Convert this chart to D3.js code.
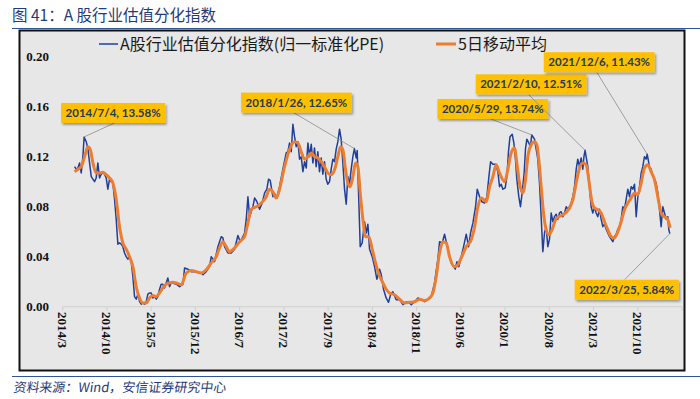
<!DOCTYPE html>
<html>
<head>
<meta charset="utf-8">
<script src="https://cdn.jsdelivr.net/npm/d3@7"></script>
<style>
  body { margin: 0; background: #fff; }
  svg { display: block; }
</style>
</head>
<body>
<svg id="chart" width="700" height="399"></svg>
<script>
// chart data (time as decimal year)
const titleText = "图 41：A 股行业估值分化指数";
const sourceText = "资料来源：Wind，安信证券研究中心";
const seriesNames = ["A股行业估值分化指数(归一标准化PE)", "5日移动平均"];
const yTicks = [0, 0.04, 0.08, 0.12, 0.16, 0.20];
const xTickLabels = ["2014/3", "2014/10", "2015/5", "2015/12", "2016/7", "2017/2", "2017/9",
                     "2018/4", "2018/11", "2019/6", "2020/1", "2020/8", "2021/3", "2021/10"];

// weekly index (blue)
const peIndex = [
  [2014.378,0.112],[2014.400,0.110],[2014.422,0.111],[2014.444,0.115],[2014.466,0.107],[2014.488,0.120],
  [2014.504,0.1358],[2014.532,0.132],[2014.554,0.126],[2014.576,0.115],[2014.598,0.104],[2014.620,0.102],
  [2014.641,0.100],[2014.663,0.103],[2014.685,0.115],[2014.707,0.103],[2014.729,0.106],[2014.751,0.107],
  [2014.773,0.106],[2014.795,0.103],[2014.817,0.094],[2014.839,0.102],[2014.861,0.100],[2014.883,0.099],
  [2014.905,0.086],[2014.927,0.070],[2014.949,0.050],[2014.971,0.051],[2014.993,0.050],[2015.015,0.048],
  [2015.037,0.043],[2015.059,0.040],[2015.081,0.038],[2015.103,0.040],[2015.125,0.036],[2015.147,0.024],
  [2015.169,0.008],[2015.191,0.006],[2015.213,0.010],[2015.235,0.004],[2015.257,0.002],[2015.279,0.003],
  [2015.301,0.002],[2015.323,0.004],[2015.345,0.010],[2015.367,0.011],[2015.389,0.011],[2015.411,0.007],
  [2015.433,0.008],[2015.455,0.006],[2015.477,0.008],[2015.499,0.014],[2015.520,0.018],[2015.542,0.018],
  [2015.564,0.015],[2015.586,0.019],[2015.608,0.023],[2015.630,0.016],[2015.652,0.019],[2015.674,0.019],
  [2015.719,0.018],[2015.763,0.016],[2015.807,0.018],[2015.829,0.031],[2015.873,0.030],[2015.917,0.028],
  [2015.961,0.028],[2016.005,0.0275],[2016.049,0.027],[2016.071,0.0256],[2016.114,0.028],[2016.158,0.032],
  [2016.180,0.040],[2016.224,0.036],[2016.268,0.048],[2016.312,0.056],[2016.334,0.055],[2016.356,0.048],
  [2016.400,0.043],[2016.444,0.043],[2016.488,0.046],[2016.532,0.057],[2016.563,0.052],[2016.598,0.056],
  [2016.620,0.059],[2016.642,0.070],[2016.664,0.088],[2016.686,0.072],[2016.730,0.080],[2016.752,0.087],
  [2016.783,0.084],[2016.818,0.078],[2016.853,0.083],[2016.884,0.091],[2016.914,0.094],[2016.936,0.102],
  [2016.958,0.101],[2016.993,0.088],[2017.024,0.090],[2017.046,0.087],[2017.081,0.096],[2017.125,0.110],
  [2017.169,0.123],[2017.191,0.124],[2017.213,0.131],[2017.235,0.124],[2017.257,0.146],[2017.279,0.136],
  [2017.301,0.128],[2017.323,0.132],[2017.345,0.118],[2017.367,0.120],[2017.389,0.108],[2017.411,0.116],
  [2017.433,0.111],[2017.455,0.131],[2017.477,0.120],[2017.499,0.130],[2017.521,0.115],[2017.542,0.127],
  [2017.564,0.112],[2017.586,0.124],[2017.608,0.108],[2017.630,0.119],[2017.652,0.106],[2017.674,0.116],
  [2017.696,0.102],[2017.718,0.098],[2017.740,0.100],[2017.762,0.110],[2017.784,0.118],[2017.806,0.116],
  [2017.828,0.126],[2017.850,0.132],[2017.872,0.142],[2017.894,0.134],[2017.916,0.115],[2017.938,0.094],
  [2017.960,0.082],[2017.982,0.104],[2018.004,0.098],[2018.026,0.110],[2018.048,0.120],[2018.068,0.1265],
  [2018.092,0.119],[2018.105,0.125],[2018.127,0.083],[2018.145,0.048],[2018.171,0.051],[2018.202,0.068],
  [2018.224,0.059],[2018.246,0.066],[2018.268,0.046],[2018.303,0.040],[2018.334,0.032],[2018.364,0.022],
  [2018.400,0.030],[2018.421,0.026],[2018.452,0.014],[2018.487,0.007],[2018.518,0.0035],[2018.545,0.0096],
  [2018.575,0.012],[2018.619,0.0056],[2018.663,0.0056],[2018.708,0.0016],[2018.752,0.004],[2018.796,0.003],
  [2018.818,0.0016],[2018.862,0.004],[2018.906,0.007],[2018.950,0.0056],[2018.994,0.004],[2019.037,0.0056],
  [2019.081,0.008],[2019.125,0.019],[2019.169,0.038],[2019.191,0.052],[2019.226,0.051],[2019.257,0.058],
  [2019.279,0.052],[2019.314,0.043],[2019.345,0.035],[2019.376,0.032],[2019.398,0.030],[2019.420,0.036],
  [2019.446,0.032],[2019.477,0.040],[2019.508,0.048],[2019.543,0.058],[2019.574,0.048],[2019.600,0.059],
  [2019.631,0.067],[2019.666,0.080],[2019.688,0.094],[2019.719,0.088],[2019.749,0.084],[2019.785,0.083],
  [2019.815,0.088],[2019.842,0.104],[2019.864,0.116],[2019.894,0.114],[2019.930,0.114],[2019.960,0.108],
  [2019.982,0.096],[2020.004,0.098],[2020.026,0.094],[2020.057,0.095],[2020.079,0.104],[2020.100,0.124],
  [2020.120,0.136],[2020.149,0.138],[2020.171,0.131],[2020.192,0.118],[2020.210,0.102],[2020.236,0.088],
  [2020.258,0.080],[2020.280,0.091],[2020.307,0.107],[2020.324,0.126],[2020.342,0.134],[2020.368,0.131],
  [2020.390,0.128],[2020.407,0.1374],[2020.443,0.134],[2020.465,0.126],[2020.487,0.118],[2020.509,0.099],
  [2020.531,0.072],[2020.553,0.044],[2020.575,0.059],[2020.597,0.064],[2020.619,0.048],[2020.641,0.054],
  [2020.663,0.075],[2020.685,0.068],[2020.707,0.072],[2020.729,0.074],[2020.751,0.070],[2020.773,0.075],
  [2020.795,0.076],[2020.817,0.072],[2020.839,0.075],[2020.861,0.080],[2020.883,0.078],[2020.905,0.080],
  [2020.927,0.083],[2020.949,0.088],[2020.971,0.096],[2020.993,0.110],[2021.014,0.118],[2021.036,0.112],
  [2021.058,0.119],[2021.080,0.110],[2021.095,0.120],[2021.110,0.1251],[2021.146,0.112],[2021.168,0.096],
  [2021.190,0.080],[2021.212,0.075],[2021.234,0.080],[2021.256,0.075],[2021.278,0.072],[2021.300,0.078],
  [2021.322,0.070],[2021.344,0.064],[2021.366,0.066],[2021.388,0.062],[2021.410,0.059],[2021.432,0.056],
  [2021.454,0.054],[2021.476,0.052],[2021.498,0.056],[2021.520,0.058],[2021.542,0.062],[2021.564,0.064],
  [2021.586,0.070],[2021.608,0.080],[2021.630,0.078],[2021.652,0.086],[2021.674,0.094],[2021.696,0.088],
  [2021.718,0.096],[2021.740,0.094],[2021.762,0.098],[2021.784,0.072],[2021.806,0.088],[2021.828,0.096],
  [2021.850,0.107],[2021.871,0.112],[2021.893,0.120],[2021.915,0.118],[2021.929,0.122],[2021.959,0.112],
  [2021.981,0.110],[2022.003,0.104],[2022.025,0.102],[2022.047,0.099],[2022.069,0.091],[2022.091,0.078],
  [2022.113,0.064],[2022.135,0.080],[2022.157,0.075],[2022.179,0.070],[2022.201,0.072],[2022.213,0.062],
  [2022.227,0.0584]
];

// 5 day moving average (orange)
const peMA5 = [
  [2014.378,0.108],[2014.422,0.110],[2014.466,0.112],[2014.510,0.120],[2014.554,0.128],[2014.584,0.126],
  [2014.620,0.115],[2014.663,0.107],[2014.707,0.107],[2014.751,0.1075],[2014.795,0.1056],[2014.839,0.103],
  [2014.883,0.099],[2014.927,0.086],[2014.971,0.064],[2015.015,0.051],[2015.059,0.046],[2015.103,0.040],
  [2015.147,0.032],[2015.191,0.016],[2015.235,0.007],[2015.279,0.003],[2015.323,0.003],[2015.367,0.007],
  [2015.411,0.009],[2015.455,0.008],[2015.499,0.011],[2015.542,0.015],[2015.586,0.018],[2015.630,0.019],
  [2015.674,0.0195],[2015.719,0.019],[2015.785,0.0176],[2015.851,0.027],[2015.917,0.029],[2015.983,0.028],
  [2016.049,0.027],[2016.114,0.0296],[2016.180,0.035],[2016.246,0.040],[2016.290,0.047],[2016.334,0.052],
  [2016.378,0.048],[2016.422,0.044],[2016.488,0.047],[2016.554,0.052],[2016.620,0.056],[2016.664,0.067],
  [2016.708,0.078],[2016.774,0.080],[2016.840,0.083],[2016.906,0.088],[2016.950,0.094],[2016.993,0.092],
  [2017.037,0.087],[2017.081,0.094],[2017.147,0.112],[2017.213,0.126],[2017.279,0.132],[2017.323,0.131],
  [2017.367,0.124],[2017.411,0.118],[2017.455,0.120],[2017.499,0.123],[2017.542,0.120],[2017.586,0.119],
  [2017.630,0.116],[2017.674,0.112],[2017.718,0.107],[2017.762,0.1056],[2017.806,0.1096],[2017.850,0.120],
  [2017.885,0.128],[2017.916,0.1256],[2017.951,0.1096],[2017.982,0.099],[2018.013,0.096],[2018.048,0.104],
  [2018.083,0.115],[2018.114,0.112],[2018.145,0.091],[2018.180,0.070],[2018.215,0.056],[2018.259,0.056],
  [2018.303,0.046],[2018.347,0.035],[2018.391,0.026],[2018.444,0.019],[2018.487,0.014],[2018.531,0.011],
  [2018.597,0.0096],[2018.663,0.006],[2018.730,0.003],[2018.796,0.0035],[2018.862,0.004],[2018.928,0.006],
  [2018.994,0.005],[2019.059,0.007],[2019.103,0.011],[2019.147,0.024],[2019.191,0.043],[2019.235,0.052],
  [2019.279,0.051],[2019.323,0.040],[2019.389,0.032],[2019.433,0.0336],[2019.477,0.039],[2019.543,0.048],
  [2019.609,0.0536],[2019.653,0.064],[2019.697,0.080],[2019.741,0.087],[2019.807,0.084],[2019.851,0.096],
  [2019.894,0.104],[2019.938,0.1136],[2019.982,0.107],[2020.048,0.100],[2020.091,0.1096],[2020.135,0.123],
  [2020.179,0.127],[2020.210,0.115],[2020.245,0.099],[2020.289,0.091],[2020.324,0.1016],[2020.355,0.120],
  [2020.399,0.1296],[2020.443,0.132],[2020.474,0.1296],[2020.500,0.1176],[2020.531,0.096],[2020.562,0.075],
  [2020.597,0.0616],[2020.632,0.0576],[2020.676,0.0616],[2020.720,0.0696],[2020.764,0.072],[2020.817,0.0736],
  [2020.861,0.0755],[2020.905,0.079],[2020.949,0.0856],[2020.993,0.099],[2021.036,0.111],[2021.080,0.115],
  [2021.124,0.1136],[2021.159,0.1016],[2021.195,0.0856],[2021.234,0.079],[2021.278,0.0776],[2021.322,0.075],
  [2021.366,0.068],[2021.410,0.0616],[2021.454,0.056],[2021.498,0.055],[2021.542,0.060],[2021.586,0.068],
  [2021.630,0.0776],[2021.674,0.083],[2021.718,0.087],[2021.762,0.091],[2021.806,0.0896],[2021.850,0.099],
  [2021.893,0.111],[2021.937,0.1136],[2021.981,0.108],[2022.025,0.1016],[2022.069,0.088],[2022.113,0.075],
  [2022.157,0.072],[2022.201,0.0696],[2022.232,0.063]
];

// callouts: date (decimal year) and label
const calloutDates = [2014.504, 2018.068, 2020.407, 2021.110, 2021.929, 2022.227];
const calloutTexts = ["2014/7/4, 13.58%", "2018/1/26, 12.65%", "2020/5/29, 13.74%",
                      "2021/2/10, 12.51%", "2021/12/6, 11.43%", "2022/3/25, 5.84%"];
// box centre offset from the point, in px
const calloutOffsets = [[29, -24], [-58, -46], [-39, -26], [-54, -66], [-48, -92], [-43, 56]];

const svg = d3.select('#chart');
const blue = '#203f9a', orange = '#ed7d31', navy = '#1f3b78';

// decimal year for a "Y/M" label, ticks sit on the 21st
const labelToYear = s => { const [y, m] = s.split('/').map(Number); return y + (m - 1 + 20 / 30.4) / 12; };
const tickYears = xTickLabels.map(labelToYear);

const x = d3.scaleLinear()
  .domain([tickYears[0], tickYears[0] + 7 * 14 / 12])
  .range([62.7, 682]);
const y = d3.scaleLinear().domain([0, 0.2]).range([306.7, 56.7]);

// title and rules
svg.append('text')
  .attr('x', 12).attr('y', 21)
  .attr('font-family', 'Noto Sans CJK SC').attr('font-size', 15.5)
  .attr('fill', navy)
  .text(titleText);

svg.append('line').attr('x1', 12).attr('x2', 700).attr('y1', 28.5).attr('y2', 28.5)
  .attr('stroke', '#2f5597').attr('stroke-width', 1.2);

svg.append('rect')
  .attr('x', 19.5).attr('y', 30.5).attr('width', 665).attr('height', 340)
  .attr('fill', '#e7e7e7').attr('stroke', '#111').attr('stroke-width', 2);

svg.append('line').attr('x1', 12).attr('x2', 700).attr('y1', 376.5).attr('y2', 376.5)
  .attr('stroke', '#2f5597').attr('stroke-width', 1.2);

svg.append('text')
  .attr('x', 13).attr('y', 392)
  .attr('font-family', 'Noto Sans CJK SC').attr('font-size', 13)
  .attr('transform', 'skewX(-8) translate(55,0)')
  .attr('fill', navy)
  .text(sourceText);

// x axis
const xAxis = svg.append('g');
xAxis.append('line')
  .attr('x1', x.range()[0]).attr('x2', x.range()[1])
  .attr('y1', y(0)).attr('y2', y(0))
  .attr('stroke', '#cfcfcf');
xAxis.selectAll('line.tick')
  .data(tickYears.concat([x.domain()[1]]))
  .enter().append('line')
  .attr('class', 'tick')
  .attr('x1', d => x(d)).attr('x2', d => x(d))
  .attr('y1', y(0)).attr('y2', y(0) + 4)
  .attr('stroke', '#cfcfcf');
xAxis.selectAll('text')
  .data(xTickLabels)
  .enter().append('text')
  .attr('transform', (d, i) => `translate(${x(tickYears[i])},312) rotate(90)`)
  .attr('dy', '0.35em')
  .attr('font-family', 'Liberation Serif').attr('font-weight', 'bold').attr('font-size', 13)
  .attr('fill', '#111')
  .text(d => d);

// y axis labels
svg.append('g').selectAll('text')
  .data(yTicks)
  .enter().append('text')
  .attr('x', 49).attr('y', d => y(d))
  .attr('dy', '0.35em')
  .attr('text-anchor', 'end')
  .attr('font-family', 'Liberation Serif').attr('font-weight', 'bold').attr('font-size', 13)
  .attr('fill', '#111')
  .text(d => d3.format('.2f')(d));

// lines
const lineBlue = d3.line().x(d => x(d[0])).y(d => y(d[1]));
const lineOrange = d3.line().x(d => x(d[0])).y(d => y(d[1])).curve(d3.curveMonotoneX);

svg.append('path')
  .datum(peIndex)
  .attr('fill', 'none').attr('stroke', blue).attr('stroke-width', 1.5)
  .attr('stroke-linejoin', 'round')
  .attr('d', lineBlue);

svg.append('path')
  .datum(peMA5)
  .attr('fill', 'none').attr('stroke', orange).attr('stroke-width', 3)
  .attr('stroke-linejoin', 'round')
  .attr('d', lineOrange);

// legend
const legend = svg.append('g').attr('font-family', 'Noto Sans CJK SC').attr('font-size', 16).attr('fill', '#1a1a1a');
const legendX = [[99, 120], [436, 458]];
[blue, orange].forEach((c, i) => {
  legend.append('line')
    .attr('x1', legendX[i][0]).attr('x2', legendX[i][1] - 2)
    .attr('y1', 44).attr('y2', 44)
    .attr('stroke', c).attr('stroke-width', i === 0 ? 1.5 : 3);
  legend.append('text')
    .attr('x', legendX[i][1]).attr('y', 44).attr('dy', '0.35em')
    .text(seriesNames[i]);
});

// callouts
const defs = svg.append('defs');
const shadow = defs.append('filter').attr('id', 'shadow').attr('x', '-20%').attr('y', '-30%').attr('width', '150%').attr('height', '180%');
shadow.append('feDropShadow').attr('dx', 1.5).attr('dy', 2).attr('stdDeviation', 1.2)
  .attr('flood-color', '#000').attr('flood-opacity', 0.35);

const nearest = t => peIndex.reduce((a, b) => Math.abs(b[0] - t) < Math.abs(a[0] - t) ? b : a);

calloutDates.forEach((t, i) => {
  const p = nearest(t);
  const px = x(p[0]), py = y(p[1]);
  const cx = px + calloutOffsets[i][0], cy = py + calloutOffsets[i][1];
  const g = svg.append('g');
  const txt = g.append('text')
    .attr('x', cx).attr('y', cy).attr('dy', '0.35em')
    .attr('text-anchor', 'middle')
    .attr('font-family', 'Lato').attr('font-weight', 'bold').attr('font-size', 11.5)
    .attr('fill', '#263a55')
    .text(calloutTexts[i]);
  const w = txt.node().getComputedTextLength() + 9, h = 20;
  const edgeY = calloutOffsets[i][1] < 0 ? cy + h / 2 : cy - h / 2;
  g.insert('line', 'text')
    .attr('x1', cx + calloutOffsets[i][0] * 0.05).attr('y1', edgeY)
    .attr('x2', px).attr('y2', py)
    .attr('stroke', '#8c8c8c').attr('stroke-width', 0.8);
  g.insert('rect', 'text')
    .attr('x', cx - w / 2).attr('y', cy - h / 2)
    .attr('width', w).attr('height', h)
    .attr('fill', '#ffc000')
    .attr('filter', 'url(#shadow)');
});
</script>
</body>
</html>
